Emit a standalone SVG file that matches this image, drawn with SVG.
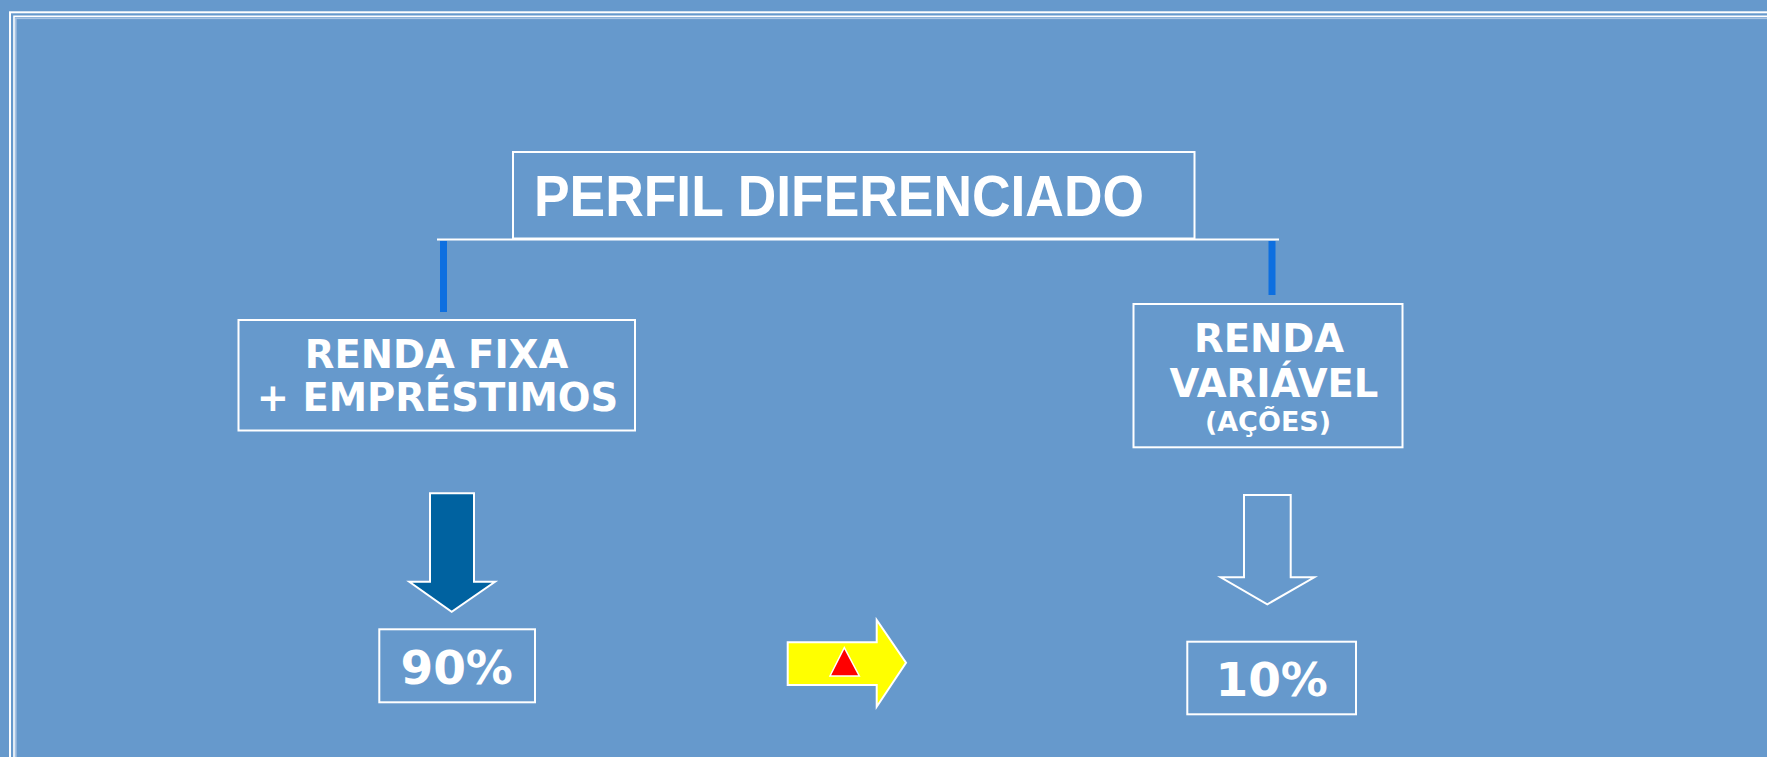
<svg xmlns="http://www.w3.org/2000/svg" width="1767" height="757" viewBox="0 0 1767 757">
<style>
.box{fill:none;stroke:#ffffff;stroke-width:2}
.t{fill:#ffffff;font-family:"DejaVu Sans",Verdana,sans-serif;font-weight:bold;text-anchor:middle}
.bar{stroke:#0d6fe0;stroke-width:7}
</style>
<rect x="0" y="0" width="1767" height="757" fill="#6699cc"/>
<g id="frame">
<rect x="10" y="12.3" width="1800" height="800" fill="none" stroke="#ffffff" stroke-width="2"/>
<rect x="14" y="16.3" width="1800" height="800" fill="none" stroke="#ffffff" stroke-width="1.6"/>
<rect x="15.8" y="18.3" width="1800" height="800" fill="none" stroke="#a9c4e3" stroke-width="1.6"/>
</g>
<g id="connectors">
<line x1="437" y1="239.5" x2="1279" y2="239.5" stroke="#ffffff" stroke-width="2"/>
<line class="bar" x1="443.5" y1="241" x2="443.5" y2="312"/>
<line class="bar" x1="1272" y1="241" x2="1272" y2="295"/>
</g>
<g id="title">
<rect class="box" x="513" y="152" width="681.5" height="86.5"/>
<text x="534" y="216" fill="#ffffff" font-family="'Liberation Sans',Arial,sans-serif" font-weight="bold" font-size="57" textLength="610" lengthAdjust="spacingAndGlyphs">PERFIL DIFERENCIADO</text>
</g>
<g id="renda-fixa">
<rect class="box" x="238.5" y="320" width="396.5" height="110.5"/>
<text class="t" x="436.5" y="368" font-size="38.5">RENDA FIXA</text>
<text class="t" x="437.5" y="411" font-size="38.5">+ EMPRÉSTIMOS</text>
</g>
<g id="renda-variavel">
<rect class="box" x="1133.5" y="304" width="269" height="143.3"/>
<text class="t" x="1269" y="352.3" font-size="38.5">RENDA</text>
<text class="t" x="1274" y="397.3" font-size="38.5">VARIÁVEL</text>
<text class="t" x="1268" y="431" font-size="27">(AÇÕES)</text>
</g>
<g id="arrow-left">
<polygon points="430,493.3 474,493.3 474,581.7 495,581.7 451.7,611.7 409.3,581.7 430,581.7" fill="#0062a0" stroke="#ffffff" stroke-width="2"/>
</g>
<g id="arrow-right">
<polygon points="1244,495 1290.7,495 1290.7,577.3 1314.3,577.3 1267.3,604.3 1220.7,577.3 1244,577.3" fill="none" stroke="#ffffff" stroke-width="2"/>
</g>
<g id="pct-90">
<rect class="box" x="379.3" y="629.3" width="155.7" height="73"/>
<text class="t" x="456.7" y="684" font-size="47">90%</text>
</g>
<g id="pct-10">
<rect class="box" x="1187.3" y="641.7" width="168.7" height="72.6"/>
<text class="t" x="1271.7" y="696" font-size="47">10%</text>
</g>
<g id="yellow-arrow">
<polygon points="787.7,642.3 876.7,642.3 876.7,620 906,662.7 876.7,706.7 876.7,685 787.7,685" fill="#ffff00" stroke="#ffffff" stroke-width="2"/>
<polygon points="844.3,647.7 859.3,676 830,676" fill="#ff0000" stroke="#ffffff" stroke-width="1.5"/>
</g>
</svg>
